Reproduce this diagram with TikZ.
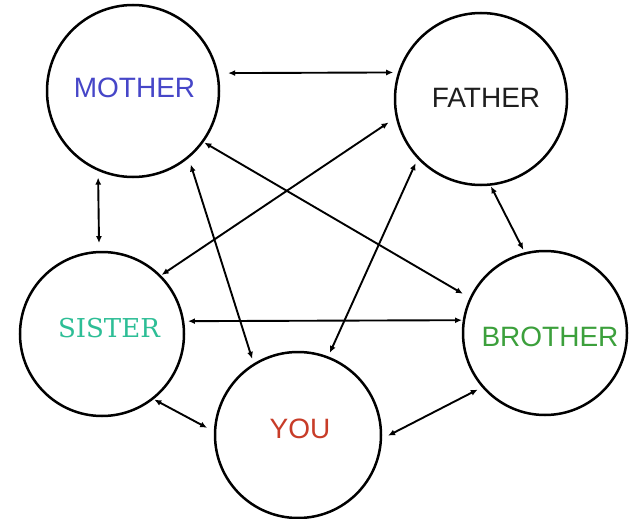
\documentclass[tikz,border=0pt]{standalone}
\usepackage{fontspec}
\setmainfont{Liberation Sans}
\newfontfamily\slabfont{DejaVu Serif}
\usetikzlibrary{arrows.meta}
\definecolor{cmother}{RGB}{70,70,200}
\definecolor{cfather}{RGB}{30,30,30}
\definecolor{csister}{RGB}{45,190,150}
\definecolor{cbrother}{RGB}{60,160,60}
\definecolor{cyou}{RGB}{200,60,40}
\tikzset{
  person/.style={draw=black, line width=2.5pt, circle, inner sep=0pt, outer sep=0pt},
  lab/.style={font=\fontsize{28}{30}\selectfont, inner sep=0pt},
  rel/.style={line width=1.9pt, {Latex[length=7pt,width=6pt]}-{Latex[length=7pt,width=6pt]}}
}
\begin{document}
\begin{tikzpicture}[x=1pt,y=-1pt]
\useasboundingbox (0,0) rectangle (632,519);
\fill[white] (0,0) rectangle (632,519);
\node[person, minimum size=172pt, label={[lab, text=cmother, xshift=1.5pt, yshift=3pt]center:MOTHER}] (m) at (133,91) {};
\node[person, minimum size=172pt, label={[lab, text=cfather, xshift=5pt, yshift=1pt]center:FATHER}] (f) at (481,99) {};
\node[person, minimum size=164pt, label={[lab, text=csister, xshift=7pt, yshift=6pt, font=\slabfont\fontsize{26}{28}\selectfont]center:SISTER}] (s) at (102,334) {};
\node[person, minimum size=164pt, label={[lab, text=cbrother, xshift=5pt, yshift=-4pt]center:BROTHER}] (b) at (545,333) {};
\node[person, minimum size=166pt, label={[lab, text=cyou, xshift=2pt, yshift=6pt]center:YOU}] (y) at (298,435) {};
\draw[rel, shorten <=11pt, shorten >=6pt] (m.12.1) -- (f.162.4);
\draw[rel, shorten <=8pt, shorten >=9pt] (m.246) -- (s.92.8);
\draw[rel, shorten <=2pt, shorten >=9pt] (m.-36.6) -- (b.155.4);
\draw[rel, shorten <=8pt, shorten >=6pt] (m.-50.2) -- (y.122.6);
\draw[rel, shorten <=2pt, shorten >=10pt] (s.45.5) -- (f.-168.6);
\draw[rel, shorten <=5pt, shorten >=2pt] (s.9.1) -- (b.171.6);
\draw[rel, shorten <=2pt, shorten >=9pt] (s.-52.3) -- (y.178.1);
\draw[rel, shorten <=5pt, shorten >=6pt] (y.69.3) -- (f.223.2);
\draw[rel, shorten <=8pt, shorten >=6pt] (y.-3.1) -- (b.221.8);
\draw[rel, shorten <=2pt, shorten >=4pt] (f.-84.2) -- (b.104.2);
\end{tikzpicture}
\end{document}
